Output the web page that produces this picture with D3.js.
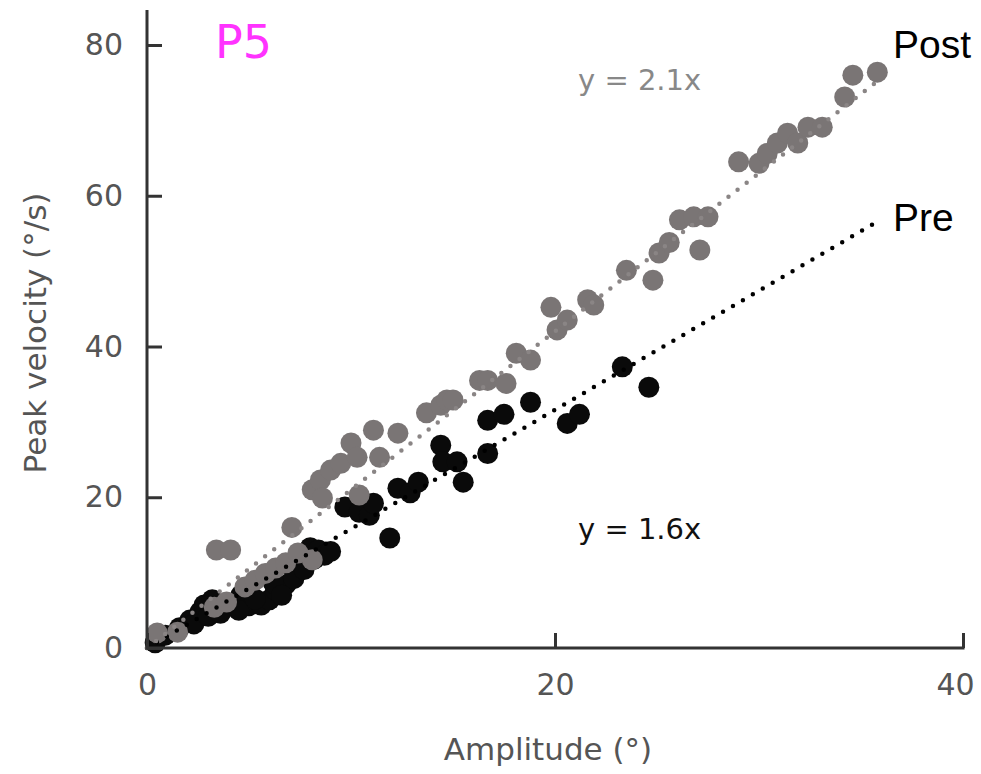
<!DOCTYPE html>
<html><head><meta charset="utf-8">
<script src="https://cdn.jsdelivr.net/npm/d3@7"></script>
<style>body{margin:0;background:#fff}</style>
</head><body><svg id="c" width="981" height="774"></svg>
<script>
// ---- data ----
const xTicks = [0, 20, 40];
const yTicks = [0, 20, 40, 60, 80];
const preX = [0.4,0.9,1.6,2.1,2.6,2.8,3.2,3.8,4.3,4.6,5.0,5.6,6.0,6.3,6.8,7.0,7.5,8.0,8.4,8.7,
  2.3,3.0,3.6,4.5,5.3,6.2,6.6,7.2,7.7,8.2,9.0,
  9.7,10.4,10.9,11.1,11.9,12.3,12.9,13.3,14.4,14.5,15.2,15.5,16.7,16.7,17.5,18.8,20.6,21.2,23.3,24.6];
const preY = [0.7,1.7,2.7,3.7,4.8,5.7,6.4,5.3,5.8,7.0,5.6,5.7,6.4,7.7,8.4,11.0,11.9,13.3,13.0,12.3,
  3.2,4.2,4.6,5.0,6.5,8.6,7.0,9.2,10.4,11.8,12.8,
  18.7,18.0,17.6,19.2,14.6,21.2,20.6,22.0,26.9,24.7,24.7,22.0,25.8,30.2,31.0,32.6,29.8,31.0,37.3,34.6];
const postX = [0.5,1.5,3.3,3.4,3.9,4.1,4.8,5.3,5.8,6.3,6.8,7.1,7.4,8.1,8.1,8.5,8.6,9.0,9.5,10.0,10.3,10.4,11.1,11.4,12.3,
  13.7,14.4,14.7,15.0,16.3,16.7,17.6,18.1,18.8,19.8,20.1,20.6,21.6,21.9,23.5,24.8,25.1,25.6,26.1,26.8,27.1,27.5,
  29.0,30.0,30.4,30.9,31.4,31.9,32.4,33.1,34.2,34.6,35.8];
const postY = [2.0,2.1,5.4,13.0,6.1,13.0,8.1,9.0,9.9,10.6,11.3,16.0,12.6,11.7,21.0,22.3,19.9,23.6,24.5,27.2,25.3,20.3,28.9,25.3,28.5,
  31.2,32.2,32.9,32.9,35.5,35.5,35.1,39.1,38.2,45.2,42.2,43.5,46.2,45.5,50.1,48.8,52.4,53.8,56.8,57.2,52.8,57.2,
  64.5,64.3,65.6,67.0,68.3,67.0,69.1,69.1,73.1,76.0,76.4];
const fitNames = ["Pre", "Post"];
const fitSlopes = [1.58, 2.1];
const fitLabels = ["y = 1.6x", "y = 2.1x"];
const fitEndX = [35.8, 36.0];

// ---- chart ----
const svg = d3.select("#c");
const x = d3.scaleLinear().domain([0, 40]).range([147, 963]);
const y = d3.scaleLinear().domain([0, 80]).range([648, 45]);
const axisCol = "#333", txtCol = "#555";
const grayCol = "#7a7575";
const R = 10.5;

const pre = preX.map((v,i)=>({x:v,y:preY[i]}));
const post = postX.map((v,i)=>({x:v,y:postY[i]}));

svg.append("g").selectAll("circle").data(pre).join("circle")
  .attr("cx", d=>x(d.x)).attr("cy", d=>y(d.y)).attr("r", R).attr("fill", "#0a0a0a");
svg.append("g").selectAll("circle").data(post).join("circle")
  .attr("cx", d=>x(d.x)).attr("cy", d=>y(d.y)).attr("r", R).attr("fill", grayCol);

// fit lines
const lineCols = ["#000", "#8a8585"];
fitSlopes.forEach((s,i)=>{
  svg.append("line")
    .attr("x1", x(0)).attr("y1", y(0))
    .attr("x2", x(fitEndX[i])).attr("y2", y(s*fitEndX[i]))
    .attr("stroke", lineCols[i]).attr("stroke-width", 4.5)
    .attr("stroke-linecap", "round").attr("stroke-dasharray", "0,11.5");
});

// axes
const xa = svg.append("g").attr("transform", `translate(0,${y(0)})`)
  .call(d3.axisBottom(x).tickValues(xTicks).tickSize(-15).tickPadding(26));
const ya = svg.append("g").attr("transform", `translate(${x(0)},0)`)
  .call(d3.axisLeft(y).tickValues(yTicks).tickSize(-15).tickPadding(24));
[xa, ya].forEach(g=>{
  g.select(".domain").remove();
  g.selectAll(".tick line").attr("stroke", axisCol).attr("stroke-width", 3);
  g.selectAll(".tick text").attr("fill", txtCol).attr("font-family", "DejaVu Sans")
    .attr("font-size", 30);
});
xa.selectAll(".tick text").filter(d=>d===40).attr("dx", -8);
svg.append("line").attr("x1", x(0)).attr("x2", x(0)).attr("y1", 10).attr("y2", y(0)+1.5)
  .attr("stroke", axisCol).attr("stroke-width", 3);
svg.append("line").attr("x1", x(0)-1.5).attr("x2", x(40)+1.5).attr("y1", y(0)).attr("y2", y(0))
  .attr("stroke", axisCol).attr("stroke-width", 3);

// axis titles
svg.append("text").attr("x", 548).attr("y", 760).attr("text-anchor", "middle")
  .attr("font-family", "DejaVu Sans").attr("font-size", 31).attr("fill", txtCol)
  .text("Amplitude (°)");
svg.append("text").attr("transform", "translate(46,333) rotate(-90)").attr("text-anchor", "middle")
  .attr("font-family", "DejaVu Sans").attr("font-size", 31).attr("fill", txtCol)
  .text("Peak velocity (°/s)");

// annotations
svg.append("text").attr("x", 215).attr("y", 58).attr("font-family", "DejaVu Sans")
  .attr("font-size", 46).attr("fill", "#ff33ff").text("P5");
svg.append("text").attr("x", 578).attr("y", 90).attr("font-family", "DejaVu Sans")
  .attr("font-size", 29).attr("fill", "#888").text(fitLabels[1]);
svg.append("text").attr("x", 578).attr("y", 539).attr("font-family", "DejaVu Sans")
  .attr("font-size", 29).attr("fill", "#111").text(fitLabels[0]);
svg.append("text").attr("x", 893).attr("y", 58).attr("font-family", "Liberation Sans")
  .attr("font-size", 39).attr("fill", "#000").text(fitNames[1]);
svg.append("text").attr("x", 893).attr("y", 231).attr("font-family", "Liberation Sans")
  .attr("font-size", 39).attr("fill", "#000").text(fitNames[0]);
</script></body></html>
